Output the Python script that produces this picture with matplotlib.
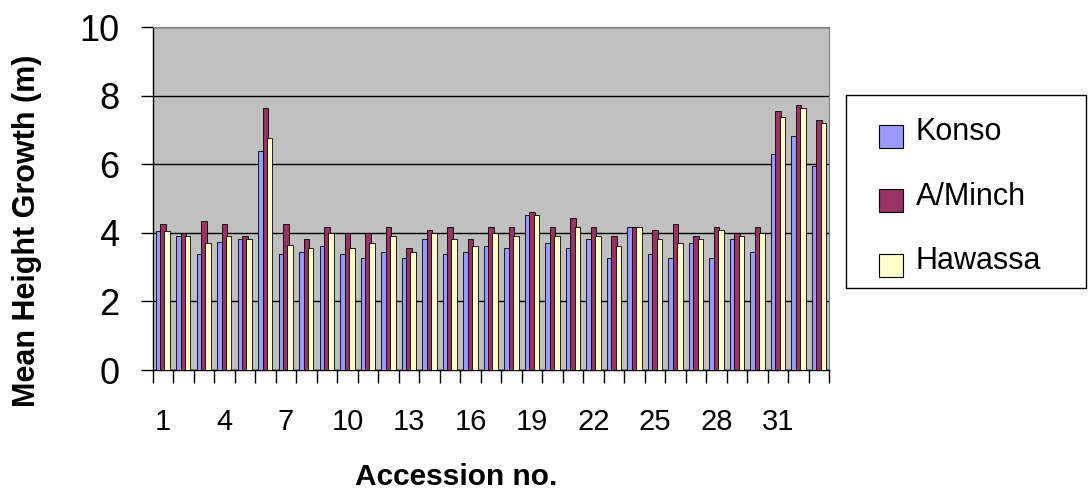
import matplotlib
matplotlib.use("Agg")
import matplotlib.pyplot as plt
from matplotlib.patches import Rectangle
from matplotlib.container import BarContainer
from matplotlib.legend_handler import HandlerPatch
import numpy as np

# Mean height growth (m) per accession at three sites
accessions = list(range(1, 34))
konso = [4.06, 3.90, 3.37, 3.72, 3.81, 6.39, 3.38, 3.45, 3.62, 3.37, 3.27,
         3.45, 3.27, 3.81, 3.37, 3.45, 3.62, 3.55, 4.52, 3.71, 3.55, 3.81,
         3.27, 4.18, 3.37, 3.27, 3.71, 3.27, 3.81, 3.45, 6.30, 6.83, 5.95]
aminch = [4.25, 3.98, 4.35, 4.25, 3.90, 7.64, 4.25, 3.81, 4.18, 3.98, 3.98,
          4.18, 3.55, 4.08, 4.18, 3.81, 4.18, 4.18, 4.60, 4.18, 4.44, 4.18,
          3.90, 4.18, 4.08, 4.25, 3.90, 4.18, 3.98, 4.18, 7.55, 7.73, 7.29]
hawassa = [4.06, 3.90, 3.71, 3.90, 3.81, 6.75, 3.64, 3.55, 3.98, 3.55, 3.71,
           3.90, 3.45, 3.98, 3.81, 3.62, 3.98, 3.90, 4.52, 3.90, 4.18, 3.90,
           3.62, 4.18, 3.81, 3.71, 3.81, 4.08, 3.90, 3.98, 7.37, 7.63, 7.19]
series_names = ["Konso", "A/Minch", "Hawassa"]
series_colors = ["#9999FF", "#993366", "#FFFFCC"]
tick_labels = [str(n) for n in accessions if (n - 1) % 3 == 0]

plt.rcParams["font.family"] = ["Liberation Sans", "DejaVu Sans"]

fig = plt.figure(figsize=(10.88, 4.91), dpi=100)
ax = fig.add_axes([0.1403, 0.2464, 0.6219, 0.6986])
ax.set_facecolor("#C0C0C0")

x = np.arange(len(accessions))
width = 0.27
offsets = [-0.21, 0.0, 0.21]
for i, (vals, name, col) in enumerate(zip([konso, aminch, hawassa],
                                          series_names, series_colors)):
    ax.bar(x + offsets[i], vals, width=width, color=col, edgecolor="black",
           linewidth=0.6, label=name, zorder=3 + i)

ax.set_xlim(-0.5, len(accessions) - 0.5)
ax.set_ylim(0, 10)
ax.set_yticks(np.arange(0, 11, 2))
ax.yaxis.grid(True, color="black", linewidth=1.0, zorder=1)
ax.set_axisbelow(True)

# category labels every third accession, tick marks on category boundaries
major_pos = [n - 1 for n in accessions if (n - 1) % 3 == 0]
ax.set_xticks(major_pos)
ax.set_xticklabels(tick_labels)
ax.set_xticks(np.arange(-0.5, len(accessions), 1.0), minor=True)
ax.tick_params(axis="x", which="major", length=0, pad=27, labelsize=21)
ax.tick_params(axis="x", which="minor", length=9, width=1.0, direction="out")
ax.tick_params(axis="y", which="major", length=9, width=1.0, direction="out",
               pad=15, labelsize=26)

for side in ["left", "bottom"]:
    ax.spines[side].set_color("black")
    ax.spines[side].set_linewidth(1.0)
for side in ["top", "right"]:
    ax.spines[side].set_color("#808080")
    ax.spines[side].set_linewidth(0.8)

# axis titles
fig.text(27 / 1088, 1 - 231 / 491, "Mean Height Growth (m)", rotation=90,
         ha="center", va="center", fontsize=22, fontweight="bold")
fig.text(456 / 1088, 1 - 477 / 491, "Accession no.", ha="center",
         va="center", fontsize=21.5, fontweight="bold")


# legend swatches sit slightly below the text centre line
def low_square(legend, orig_handle, xdescent, ydescent, width, height,
               fontsize):
    return Rectangle((-xdescent, -ydescent - 0.3 * height), width, height)


def from_first_bar(legend_handle, orig_handle):
    legend_handle.update_from(orig_handle.patches[0])
    legend_handle.set_linewidth(0.8)


# legend box
fig.patches.append(Rectangle((846 / 1088, 1 - 288 / 491), 240 / 1088,
                             193 / 491, transform=fig.transFigure,
                             facecolor="white", edgecolor="black",
                             linewidth=1.0, zorder=0))
leg = fig.legend(loc="upper left", bbox_to_anchor=(879 / 1088, 1 - 117 / 491),
                 fontsize=22, frameon=False, handlelength=0.78,
                 handleheight=0.78, handletextpad=0.42, labelspacing=1.13,
                 borderpad=0.0, borderaxespad=0.0,
                 handler_map={BarContainer: HandlerPatch(
                     patch_func=low_square, update_func=from_first_bar)})

fig.savefig("out.png", dpi=100, facecolor="white")
